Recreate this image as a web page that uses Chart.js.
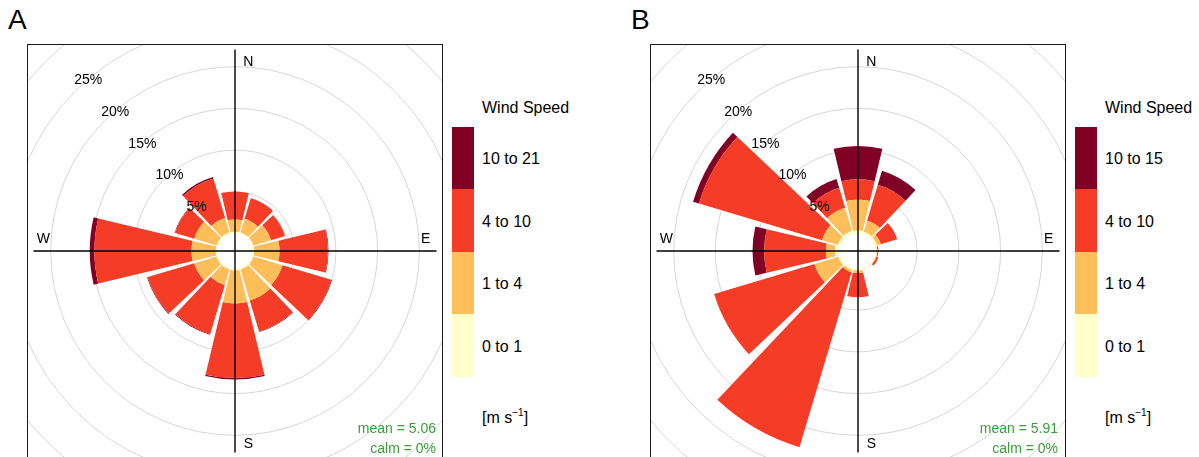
<!DOCTYPE html>
<html>
<head>
<meta charset="utf-8">
<script src="https://cdn.jsdelivr.net/npm/chart.js@4.4.1/dist/chart.umd.min.js"></script>
<style>
  html, body { margin: 0; padding: 0; background: #fff; }
  body {
    width: 1199px; height: 457px; position: relative; overflow: hidden;
    font-family: "Liberation Sans", Arial, Helvetica, sans-serif; color: #000;
  }
  .title { position: absolute; top: 6px; font-size: 28px; line-height: 28px; }
  canvas.rose { position: absolute; top: 44px; }
  .frame {
    position: absolute; top: 44px; width: 416px; height: 416px;
    box-sizing: border-box; border: 1px solid #1a1a1a; pointer-events: none;
  }
  .stats {
    position: absolute; top: 418px; font-size: 14px; line-height: 20px;
    color: #3c9c3c; text-align: right; white-space: nowrap;
  }
  .legend { position: absolute; top: 0; width: 140px; height: 457px; }
  .legend .head, .legend .lab, .legend .unit {
    position: absolute; font-size: 16px; line-height: 16px; white-space: nowrap;
  }
  .legend .seg { position: absolute; }
  .legend sup { font-size: 10px; position: relative; top: -1px; }
</style>
</head>
<body>
<div class="title" style="left:8px">A</div>
<div class="title" style="left:631px">B</div>

<canvas id="roseA" class="rose" width="415" height="415" style="left:28px"></canvas>
<div class="frame" style="left:27px"></div>
<canvas id="roseB" class="rose" width="415" height="415" style="left:651px"></canvas>
<div class="frame" style="left:650px"></div>

<div id="statsA" class="stats" style="right:763px"></div>
<div id="statsB" class="stats" style="right:141px"></div>

<div id="legendA" class="legend" style="left:452px"></div>
<div id="legendB" class="legend" style="left:1075px"></div>

<script>
// Wind direction sectors (30 degree bins, clockwise from north)
const DIRECTIONS = ['N', 'NNE', 'ENE', 'E', 'ESE', 'SSE', 'S', 'SSW', 'WSW', 'W', 'WNW', 'NNW'];

// Speed class names (m/s)
const SPEED_BINS_A = ['0 to 1', '1 to 4', '4 to 10', '10 to 21'];
const SPEED_BINS_B = ['0 to 1', '1 to 4', '4 to 10', '10 to 15'];

// Frequency (%) of each speed class per direction — site A
const A_0_1   = [0.20, 0.20, 0.20, 0.20, 0.20, 0.20, 0.20, 0.20, 0.20, 0.20, 0.20, 0.20];
const A_1_4   = [1.48, 1.72, 2.20, 3.04, 3.64, 3.88, 4.00, 1.96, 2.80, 2.92, 2.80, 1.84];
const A_4_10  = [3.36, 2.59, 1.76, 5.80, 6.12, 3.90, 8.94, 6.12, 5.82, 11.64, 2.40, 4.92];
const A_10_21 = [0.00, 0.02, 0.02, 0.07, 0.07, 0.06, 0.16, 0.10, 0.08, 0.56, 0.06, 0.20];

// Frequency (%) of each speed class per direction — site B
const B_0_1   = [0.35, 0.30, 0.25, 0.12, 0.10, 0.10, 0.20, 0.25, 0.35, 0.65, 0.40, 0.40];
const B_1_4   = [3.70, 1.40, 0.50, 0.10, 0.10, 0.05, 0.35, 0.30, 3.00, 1.10, 2.00, 2.90];
const B_4_10  = [2.45, 4.50, 2.05, 0.13, 0.25, 0.00, 2.90, 21.90, 12.55, 7.40, 15.40, 2.50];
const B_10_15 = [4.00, 1.75, 0.00, 0.00, 0.00, 0.00, 0.00, 0.00, 0.00, 1.40, 0.74, 1.10];

// Summary statistics
const MEAN_A = '5.06';
const MEAN_B = '5.91';
const CALM_A = '0%';
const CALM_B = '0%';

// Radial axis: grid rings and the labelled subset
const GRID_PCT = [5, 10, 15, 20, 25, 30];
const RING_LABELS = [5, 10, 15, 20, 25];

// Palette, from lowest to highest speed class
const SPEED_COLOURS = ['#FFFFCC', '#FEBF5A', '#F53C26', '#800026'];

// Layout constants
const HOLE = -2.1;            // axis minimum: leaves an empty hole around the centre
const AXIS_MAX = 22.72;       // value reached at the edge of the drawing area
const WEDGE_FILL = 0.893;     // fraction of each 30 degree sector covered by its wedge
const RING_LABEL_BEARING = 319.5;
const CROSS_LEN = 201.5;
const FONT = '"Liberation Sans", Arial, Helvetica, sans-serif';

// Stacked wind-rose controller: every dataset is one speed class, stacked
// outward on top of the lower classes, drawn as native arc elements.
class WindRoseController extends Chart.PolarAreaController {
  updateElements(arcs, start, count, mode) {
    const scale = this._cachedMeta.rScale;
    const datasets = this.chart.data.datasets;
    const k = this.index;
    const n = this.getDataset().data.length;
    const step = Math.PI * 2 / n;
    const half = step / 2 * WEDGE_FILL;
    for (let i = start; i < start + count; i++) {
      let lower = 0;
      for (let j = 0; j < k; j++) lower += Number(datasets[j].data[i]) || 0;
      const upper = lower + (this.getParsed(i).r || 0);
      const mid = i * step - Math.PI / 2;
      this.updateElement(arcs[i], i, {
        x: scale.xCenter,
        y: scale.yCenter,
        innerRadius: scale.getDistanceFromCenterForValue(lower),
        outerRadius: scale.getDistanceFromCenterForValue(upper),
        startAngle: mid - half,
        endAngle: mid + half,
        circumference: 2 * half,
        options: this.resolveDataElementOptions(i, mode)
      }, mode);
    }
  }
}
WindRoseController.id = 'windRose';
Chart.register(WindRoseController);

// Compass cross, compass letters and ring percentages, drawn over the wedges
const roseOverlay = {
  id: 'roseOverlay',
  afterDatasetsDraw(chart) {
    const s = chart.scales.r;
    const ctx = chart.ctx;
    const cx = s.xCenter, cy = s.yCenter;
    ctx.save();
    ctx.strokeStyle = '#000';
    ctx.lineWidth = 1.4;
    ctx.beginPath();
    ctx.moveTo(cx, cy - CROSS_LEN); ctx.lineTo(cx, cy + CROSS_LEN);
    ctx.moveTo(cx - CROSS_LEN, cy); ctx.lineTo(cx + CROSS_LEN, cy);
    ctx.stroke();

    ctx.fillStyle = '#000';
    ctx.font = '14px ' + FONT;
    ctx.textAlign = 'center';
    ctx.textBaseline = 'alphabetic';
    ctx.fillText('N', cx + 13.3, cy - 185.3);
    ctx.fillText('S', cx + 13.3, cy + 197.3);
    ctx.fillText('W', cx - 191.7, cy - 7.7);
    ctx.fillText('E', cx + 190.7, cy - 7.7);

    const a = RING_LABEL_BEARING * Math.PI / 180;
    RING_LABELS.forEach(v => {
      const r = s.getDistanceFromCenterForValue(v);
      ctx.fillText(v + '%', cx + r * Math.sin(a), cy - r * Math.cos(a) + 5);
    });
    ctx.restore();
  }
};

function makeRose(canvasId, bins, series) {
  return new Chart(document.getElementById(canvasId), {
    type: 'windRose',
    data: {
      labels: DIRECTIONS,
      datasets: series.map((values, k) => ({
        label: bins[k],
        data: values,
        backgroundColor: SPEED_COLOURS[k],
        borderWidth: 0
      }))
    },
    options: {
      responsive: false,
      animation: false,
      events: [],
      layout: { padding: 0 },
      plugins: { legend: { display: false }, tooltip: { enabled: false }, title: { display: false } },
      scales: {
        r: {
          type: 'radialLinear',
          min: HOLE,
          max: AXIS_MAX,
          startAngle: 0,
          afterBuildTicks: (scale) => { scale.ticks = GRID_PCT.map(v => ({ value: v })); },
          ticks: { display: false },
          pointLabels: { display: false },
          angleLines: { display: false },
          grid: { display: true, circular: true, color: '#d6d6d6', lineWidth: 1 }
        }
      }
    },
    plugins: [roseOverlay]
  });
}

makeRose('roseA', SPEED_BINS_A, [A_0_1, A_1_4, A_4_10, A_10_21]);
makeRose('roseB', SPEED_BINS_B, [B_0_1, B_1_4, B_4_10, B_10_15]);

// Colour-key legends
function buildLegend(id, bins) {
  const el = document.getElementById(id);
  const barW = 21.5, textX = 30, top = 126.5, segH = 62.5;
  let html = `<div class="head" style="left:${textX}px;top:99.5px">Wind Speed</div>`;
  const n = bins.length;
  for (let k = n - 1; k >= 0; k--) {
    const y = top + (n - 1 - k) * segH;
    html += `<div class="seg" style="left:0;top:${y}px;width:${barW}px;height:${segH}px;background:${SPEED_COLOURS[k]}"></div>`;
    html += `<div class="lab" style="left:${textX}px;top:${y + segH / 2 - 6.3}px">${bins[k]}</div>`;
  }
  html += `<div class="unit" style="left:${textX}px;top:406px">[m s<sup>&minus;1</sup>]</div>`;
  el.innerHTML = html;
}
buildLegend('legendA', SPEED_BINS_A);
buildLegend('legendB', SPEED_BINS_B);

document.getElementById('statsA').innerHTML = `mean = ${MEAN_A}<br>calm = ${CALM_A}`;
document.getElementById('statsB').innerHTML = `mean = ${MEAN_B}<br>calm = ${CALM_B}`;
</script>
</body>
</html>
